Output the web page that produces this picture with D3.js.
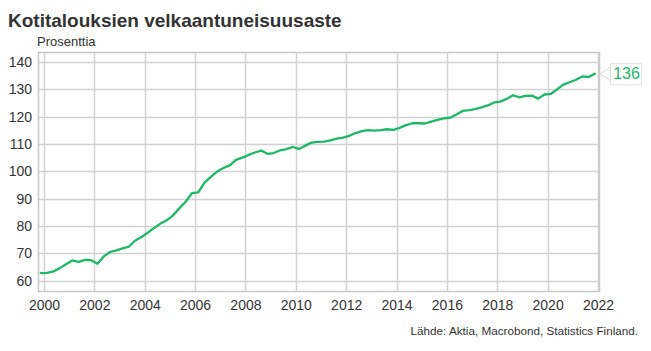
<!DOCTYPE html>
<html>
<head>
<meta charset="utf-8">
<script src="https://cdn.jsdelivr.net/npm/d3@7"></script>
<style>
  html, body { margin: 0; padding: 0; background: #fff; }
  svg { display: block; font-family: "Liberation Sans", Arial, sans-serif; }
</style>
</head>
<body>
<svg id="chart" width="651" height="351"></svg>
<script>
// ---- data ----
const title = "Kotitalouksien velkaantuneisuusaste";
const unitLabel = "Prosenttia";
const sourceLabel = "Lähde: Aktia, Macrobond, Statistics Finland.";
const firstQuarter = 1999.875;          // first observation (quarter midpoint)
const debtRatio = [
  62.8, 62.9, 63.4, 64.6, 66.0, 67.4, 66.9, 67.6, 67.5, 66.2,
  68.9, 70.5, 71.1, 71.8, 72.5, 74.7, 76.0, 77.6, 79.3, 80.9,
  82.1, 83.9, 86.5, 88.9, 92.0, 92.3, 95.9, 98.0, 99.9, 101.2,
  102.2, 104.2, 105.0, 106.0, 106.9, 107.6, 106.4, 106.7, 107.7, 108.1,
  108.9, 108.2, 109.4, 110.5, 110.8, 110.9, 111.3, 112.0, 112.3, 113.0,
  114.0, 114.7, 115.1, 114.9, 115.1, 115.4, 115.2, 115.9, 116.9, 117.6,
  117.6, 117.5, 118.2, 118.8, 119.4, 119.6, 120.8, 122.1, 122.4, 122.8,
  123.4, 124.1, 125.2, 125.5, 126.5, 127.8, 127.1, 127.6, 127.7, 126.6,
  128.1, 128.3, 130.0, 131.7, 132.6, 133.5, 134.7, 134.5, 135.7
];
const xTicks = [2000, 2002, 2004, 2006, 2008, 2010, 2012, 2014, 2016, 2018, 2020, 2022];
const yTicks = [60, 70, 80, 90, 100, 110, 120, 130, 140];
const lastLabel = "136";

// ---- layout ----
const svg = d3.select("#chart");
const plot = { left: 38, right: 600, top: 52, bottom: 291 };
const green = "#1db864";
const textCol = "#333333";
const gridCol = "#d2d2d2";

const x = d3.scaleLinear().domain([1999.762, 2022.08]).range([plot.left, plot.right]);
const y = d3.scaleLinear().domain([56.24, 143.65]).range([plot.bottom, plot.top]);

const data = debtRatio.map((v, i) => ({ t: firstQuarter + i * 0.25, v }));

// background
svg.append("rect").attr("width", 651).attr("height", 351).attr("fill", "#fff");

// grid
const g = svg.append("g");
g.selectAll("line.h").data(yTicks).join("line")
  .attr("x1", plot.left).attr("x2", plot.right)
  .attr("y1", d => Math.round(y(d)) + 0.5).attr("y2", d => Math.round(y(d)) + 0.5)
  .attr("stroke", gridCol).attr("stroke-width", 1.5);
g.selectAll("line.v").data(xTicks).join("line")
  .attr("y1", plot.top).attr("y2", plot.bottom)
  .attr("x1", d => Math.round(x(d)) + 0.5).attr("x2", d => Math.round(x(d)) + 0.5)
  .attr("stroke", gridCol).attr("stroke-width", 1.5);
// frame
g.append("rect")
  .attr("x", plot.left + 0.5).attr("y", plot.top + 0.5)
  .attr("width", plot.right - plot.left - 1).attr("height", plot.bottom - plot.top)
  .attr("fill", "none").attr("stroke", "#c8c8c8").attr("stroke-width", 1.5);

// axes labels via d3 axes
const yAxis = svg.append("g").attr("transform", `translate(${plot.left},0)`)
  .call(d3.axisLeft(y).tickValues(yTicks).tickSize(0).tickPadding(6));
yAxis.select(".domain").remove();
yAxis.selectAll("text").attr("font-size", 14).attr("fill", textCol)
  .attr("font-family", "Liberation Sans, Arial, sans-serif");

const xAxis = svg.append("g").attr("transform", `translate(0,${plot.bottom})`)
  .call(d3.axisBottom(x).tickValues(xTicks).tickFormat(d3.format("d")).tickSize(0).tickPadding(9));
xAxis.select(".domain").remove();
xAxis.selectAll("text").attr("font-size", 14).attr("fill", textCol)
  .attr("font-family", "Liberation Sans, Arial, sans-serif");

// line
const line = d3.line().x(d => x(d.t)).y(d => y(d.v));
svg.append("path").datum(data)
  .attr("d", line).attr("fill", "none")
  .attr("stroke", green).attr("stroke-width", 2.3)
  .attr("stroke-linejoin", "round").attr("stroke-linecap", "round");

// end label callout
const last = data[data.length - 1];
const lx = x(last.t), ly = y(last.v);
const bx = 610, bw = 31, bh = 21;
const by = ly - bh / 2;
svg.append("path")
  .attr("d", `M${bx},${by + 4} L${lx + 5},${ly} L${bx},${by + bh - 4}`)
  .attr("fill", "#fff").attr("stroke", "#d8d8d8").attr("stroke-width", 1);
svg.append("rect").attr("x", bx + 0.5).attr("y", by + 0.5).attr("width", bw).attr("height", bh)
  .attr("fill", "#fff").attr("stroke", "#e2e2e2").attr("stroke-width", 1);
svg.append("text").attr("x", bx + bw / 2 + 1).attr("y", ly + 5.5)
  .attr("text-anchor", "middle").attr("font-size", 16).attr("fill", green)
  .text(lastLabel);

// titles
svg.append("text").attr("x", 8).attr("y", 27)
  .attr("font-size", 19).attr("font-weight", "bold").attr("fill", textCol)
  .text(title);
svg.append("text").attr("x", 37).attr("y", 46)
  .attr("font-size", 13).attr("fill", textCol)
  .text(unitLabel);
svg.append("text").attr("x", 638).attr("y", 335)
  .attr("text-anchor", "end").attr("font-size", 11.7).attr("fill", textCol)
  .text(sourceLabel);
</script>
</body>
</html>
